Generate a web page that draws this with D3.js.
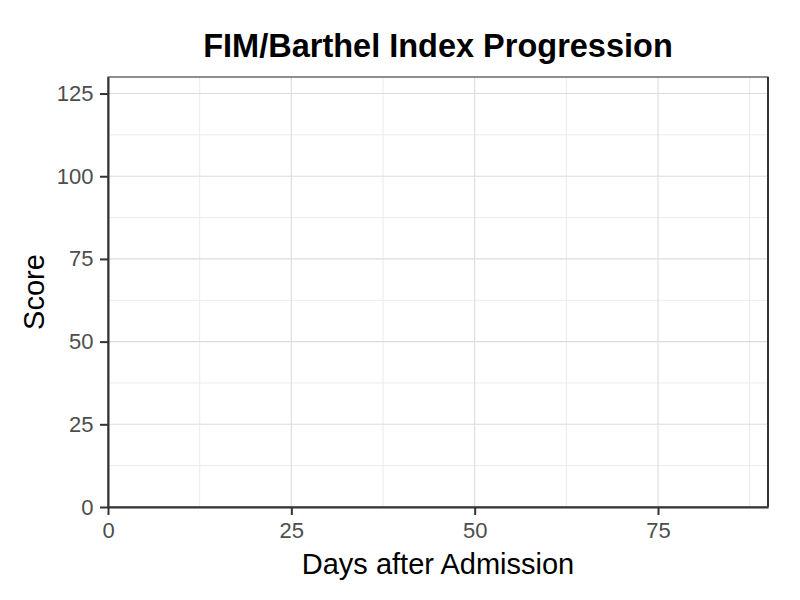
<!DOCTYPE html>
<html>
<head>
<meta charset="utf-8">
<script src="https://cdn.jsdelivr.net/npm/d3@7"></script>
<style>
  body { margin: 0; background: #fff; }
  text { font-family: "Liberation Sans", Arial, sans-serif; }
</style>
</head>
<body>
<svg id="chart" width="800" height="600"></svg>
<script>
// empty plot: only the scales and labels are known
const xDomain = [0, 90];
const yDomain = [0, 130];
const xTicks = [0, 25, 50, 75];
const yTicks = [0, 25, 50, 75, 100, 125];
const xMinor = [12.5, 37.5, 62.5, 87.5];
const yMinor = [12.5, 37.5, 62.5, 87.5, 112.5];
const chartTitle = 'FIM/Barthel Index Progression';
const xTitle = 'Days after Admission';
const yTitle = 'Score';

const margin = {top: 77, right: 32, bottom: 93, left: 108};
const width = 800 - margin.left - margin.right;
const height = 600 - margin.top - margin.bottom;

const svg = d3.select('#chart');
const g = svg.append('g')
    .attr('transform', `translate(${margin.left},${margin.top})`);

const x = d3.scaleLinear().domain(xDomain).range([0, width]);
const y = d3.scaleLinear().domain(yDomain).range([height, 0]);

// minor grid
g.selectAll('line.minor-x')
    .data(xMinor)
    .join('line')
    .attr('x1', d => x(d)).attr('x2', d => x(d))
    .attr('y1', 0).attr('y2', height)
    .attr('stroke', '#ebebeb').attr('stroke-width', 1);
g.selectAll('line.minor-y')
    .data(yMinor)
    .join('line')
    .attr('y1', d => y(d)).attr('y2', d => y(d))
    .attr('x1', 0).attr('x2', width)
    .attr('stroke', '#ebebeb').attr('stroke-width', 1);

// major grid
g.selectAll('line.major-x')
    .data(xTicks)
    .join('line')
    .attr('x1', d => x(d)).attr('x2', d => x(d))
    .attr('y1', 0).attr('y2', height)
    .attr('stroke', '#dcdcdc').attr('stroke-width', 1.1);
g.selectAll('line.major-y')
    .data(yTicks)
    .join('line')
    .attr('y1', d => y(d)).attr('y2', d => y(d))
    .attr('x1', 0).attr('x2', width)
    .attr('stroke', '#dcdcdc').attr('stroke-width', 1.1);

// panel border
g.append('rect')
    .attr('width', width).attr('height', height)
    .attr('fill', 'none')
    .attr('stroke', '#333333').attr('stroke-width', 1.1);

// axes
const xAxis = g.append('g')
    .attr('transform', `translate(0,${height})`)
    .call(d3.axisBottom(x).tickValues(xTicks).tickSize(8).tickSizeOuter(0).tickPadding(7.5));
const yAxis = g.append('g')
    .call(d3.axisLeft(y).tickValues(yTicks).tickSize(8).tickSizeOuter(0).tickPadding(6.5));

[xAxis, yAxis].forEach(a => {
    a.select('.domain').attr('stroke', '#333333').attr('stroke-width', 2);
    a.selectAll('.tick line').attr('stroke', '#333333').attr('stroke-width', 2);
    a.selectAll('.tick text')
        .attr('fill', '#4d4d4d')
        .style('font-size', '22px')
        .style('font-family', '"Liberation Sans", Arial, sans-serif');
});

// right edge is drawn heavier in the reference
g.append('line')
    .attr('x1', width).attr('x2', width)
    .attr('y1', 0).attr('y2', height)
    .attr('stroke', '#333333').attr('stroke-width', 2);

// titles
svg.append('text')
    .attr('x', margin.left + width / 2)
    .attr('y', 57)
    .attr('text-anchor', 'middle')
    .style('font-size', '32.5px')
    .style('font-weight', 'bold')
    .text(chartTitle);

svg.append('text')
    .attr('x', margin.left + width / 2)
    .attr('y', 574)
    .attr('text-anchor', 'middle')
    .style('font-size', '29px')
    .text(xTitle);

svg.append('text')
    .attr('transform', `translate(44,${margin.top + height / 2}) rotate(-90)`)
    .attr('text-anchor', 'middle')
    .style('font-size', '29px')
    .text(yTitle);
</script>
</body>
</html>
